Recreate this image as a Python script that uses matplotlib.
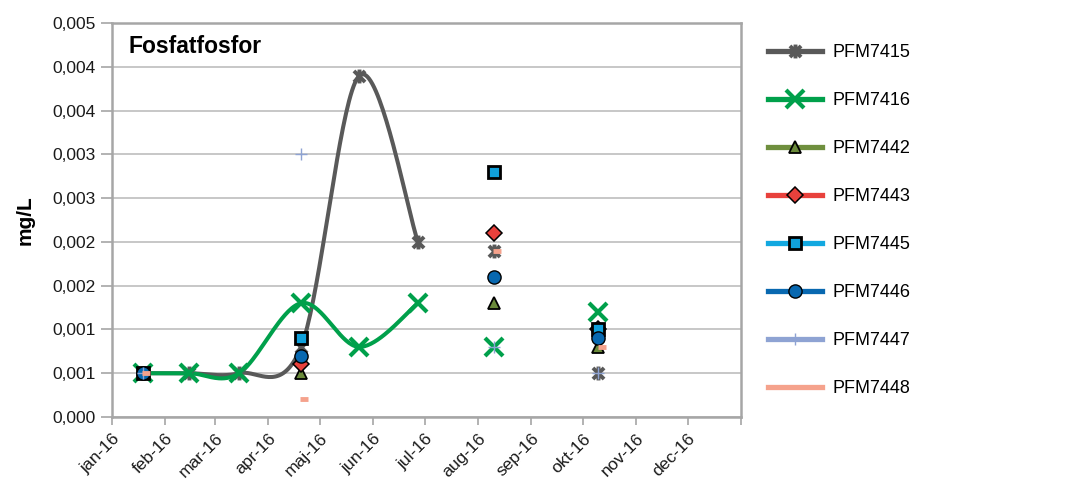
import numpy as np
import pandas as pd
import matplotlib
matplotlib.use("Agg")
import matplotlib.pyplot as plt
import matplotlib.dates as mdates
from matplotlib.path import Path
from matplotlib.lines import Line2D
from matplotlib.ticker import FixedLocator, FuncFormatter
from decimal import Decimal, ROUND_HALF_UP

plt.rcParams['font.family'] = ['Liberation Sans', 'DejaVu Sans']

# prøvetagningsdatoer (PFM7448 er taget to dage senere)
dates = ['2016-01-19', '2016-02-15', '2016-03-15', '2016-04-20',
         '2016-05-24', '2016-06-27', '2016-08-10', '2016-10-10']
lag_days = {'PFM7448': 2}
joined = 6  # de første seks prøver forbindes med linje

nan = np.nan
pfm7415 = [0.0005, 0.0005, 0.0005, 0.0008, 0.0039, 0.0020, 0.0019, 0.0005]
pfm7416 = [0.0005, 0.0005, 0.0005, 0.0013, 0.0008, 0.0013, 0.0008, 0.0012]
pfm7442 = [nan, nan, nan, 0.0005, nan, nan, 0.0013, 0.0008]
pfm7443 = [nan, nan, nan, 0.0006, nan, nan, 0.0021, 0.0010]
pfm7445 = [0.0005, nan, nan, 0.0009, nan, nan, 0.0028, 0.0010]
pfm7446 = [0.0005, nan, nan, 0.0007, nan, nan, 0.0016, 0.0009]
pfm7447 = [0.0005, nan, nan, 0.0030, nan, nan, 0.0008, 0.0005]
pfm7448 = [0.0005, nan, nan, 0.0002, nan, nan, 0.0019, 0.0008]

month_labels = ['jan-16', 'feb-16', 'mar-16', 'apr-16', 'maj-16', 'jun-16',
                'jul-16', 'aug-16', 'sep-16', 'okt-16', 'nov-16', 'dec-16']

star = Path([(-1, -1), (1, 1), (-1, 1), (1, -1), (0, -1.25), (0, 1.25)],
            [Path.MOVETO, Path.LINETO, Path.MOVETO, Path.LINETO, Path.MOVETO, Path.LINETO])

series = [
    ('PFM7415', pfm7415, dict(color='#595959', marker=star, ms=10, mew=2.8, mfc='#595959', mec='#595959')),
    ('PFM7416', pfm7416, dict(color='#00A04B', marker='x', ms=13, mew=3, mfc='#00A04B', mec='#00A04B')),
    ('PFM7442', pfm7442, dict(color='#6F8F3E', marker='^', ms=9, mew=1.3, mfc='#6A8A3A', mec='black')),
    ('PFM7443', pfm7443, dict(color='#E8413C', marker='D', ms=8, mew=1.1, mfc='#E8413C', mec='black')),
    ('PFM7445', pfm7445, dict(color='#12A8E0', marker='s', ms=9, mew=2, mfc='#10A0DB', mec='black')),
    ('PFM7446', pfm7446, dict(color='#0868B0', marker='o', ms=9.5, mew=1, mfc='#0868B0', mec='black')),
    ('PFM7447', pfm7447, dict(color='#8EA3D3', marker='+', ms=9, mew=1, mfc='#8EA3D3', mec='#8EA3D3')),
    ('PFM7448', pfm7448, dict(color='#F5A28C', marker='_', ms=6, mew=3.5, mfc='#F5A28C', mec='#F5A28C')),
]


def smooth(x, y, n=40):
    # Bezier-udglatning som i regneark (Catmull-Rom kontrolpunkter)
    pts = np.column_stack([x, y])
    if len(pts) < 3:
        return pts[:, 0], pts[:, 1]
    pad = np.vstack([pts[0], pts, pts[-1]])
    t = np.linspace(0, 1, n)[:, None]
    out = []
    for i in range(len(pts) - 1):
        p0, p1, p2, p3 = pad[i], pad[i + 1], pad[i + 2], pad[i + 3]
        c1 = p1 + (p2 - p0) / 6
        c2 = p2 - (p3 - p1) / 6
        seg = (1 - t) ** 3 * p1 + 3 * (1 - t) ** 2 * t * c1 + 3 * (1 - t) * t ** 2 * c2 + t ** 3 * p2
        out.append(seg if i == 0 else seg[1:])
    out = np.vstack(out)
    return out[:, 0], out[:, 1]


fig = plt.figure(figsize=(10.72, 4.83), dpi=100)
ax = fig.add_axes([112 / 1072, 66 / 483, 629 / 1072, 394 / 483])

base = mdates.date2num(pd.to_datetime(dates))
handles = []
for name, vals, st in series:
    x = base + lag_days.get(name, 0)
    y = np.array(vals, dtype=float)
    # linjestykker gennem sammenhængende prøver
    run = []
    for i in range(joined + 1):
        if i < joined and not np.isnan(y[i]):
            run.append(i)
        else:
            if len(run) >= 2:
                sx, sy = smooth(x[run], y[run])
                ax.plot(sx, sy, color=st['color'], lw=2.9, solid_capstyle='round', zorder=3)
            run = []
    ax.plot(x, y, ls='none', marker=st['marker'], ms=st['ms'], mew=st['mew'],
            mfc=st['mfc'], mec=st['mec'], zorder=4)
    handles.append(Line2D([], [], color=st['color'], lw=3.8, marker=st['marker'],
                          ms=st['ms'], mew=st['mew'], mfc=st['mfc'], mec=st['mec']))

# akser
ax.set_ylim(0, 0.0045)
ax.yaxis.set_major_locator(FixedLocator(np.arange(10) * 0.0005))


def fmt(v, pos):
    d = Decimal(str(round(v, 6))).quantize(Decimal('0.001'), rounding=ROUND_HALF_UP)
    return str(d).replace('.', ',')


ax.yaxis.set_major_formatter(FuncFormatter(fmt))

month_starts = mdates.date2num(pd.date_range('2016-01-01', '2017-01-01', freq='MS'))
ax.set_xlim(month_starts[0], month_starts[-1])
ax.set_xticks(month_starts)
ax.set_xticklabels(month_labels + [''], rotation=45, ha='right', rotation_mode='anchor')

ax.grid(axis='y', color='#BDBDBD', lw=1.2)
ax.set_axisbelow(True)
for s in ax.spines.values():
    s.set_color('#A6A6A6')
    s.set_linewidth(1.8)
ax.tick_params(axis='both', colors='#A6A6A6', width=1.2, labelcolor='#1a1a1a', labelsize=12.5)
ax.tick_params(axis='y', length=8, pad=4)
ax.tick_params(axis='x', length=6, pad=4)

ax.text(0.026, 0.94, 'Fosfatfosfor', transform=ax.transAxes, fontsize=16.5,
        fontweight='bold', va='center', ha='left')
fig.text(25 / 1072, 1 - 220 / 483, 'mg/L', rotation=90, fontsize=15, fontweight='bold',
         va='center', ha='center')

fig.legend(handles, [s[0] for s in series], loc='upper left',
           bbox_to_anchor=(768 / 1072, 1 - 44 / 483), frameon=False, fontsize=13,
           handlelength=3.0, handletextpad=0.55, labelspacing=1.72,
           borderpad=0, borderaxespad=0, numpoints=1)

fig.savefig('out.png', dpi=100)
